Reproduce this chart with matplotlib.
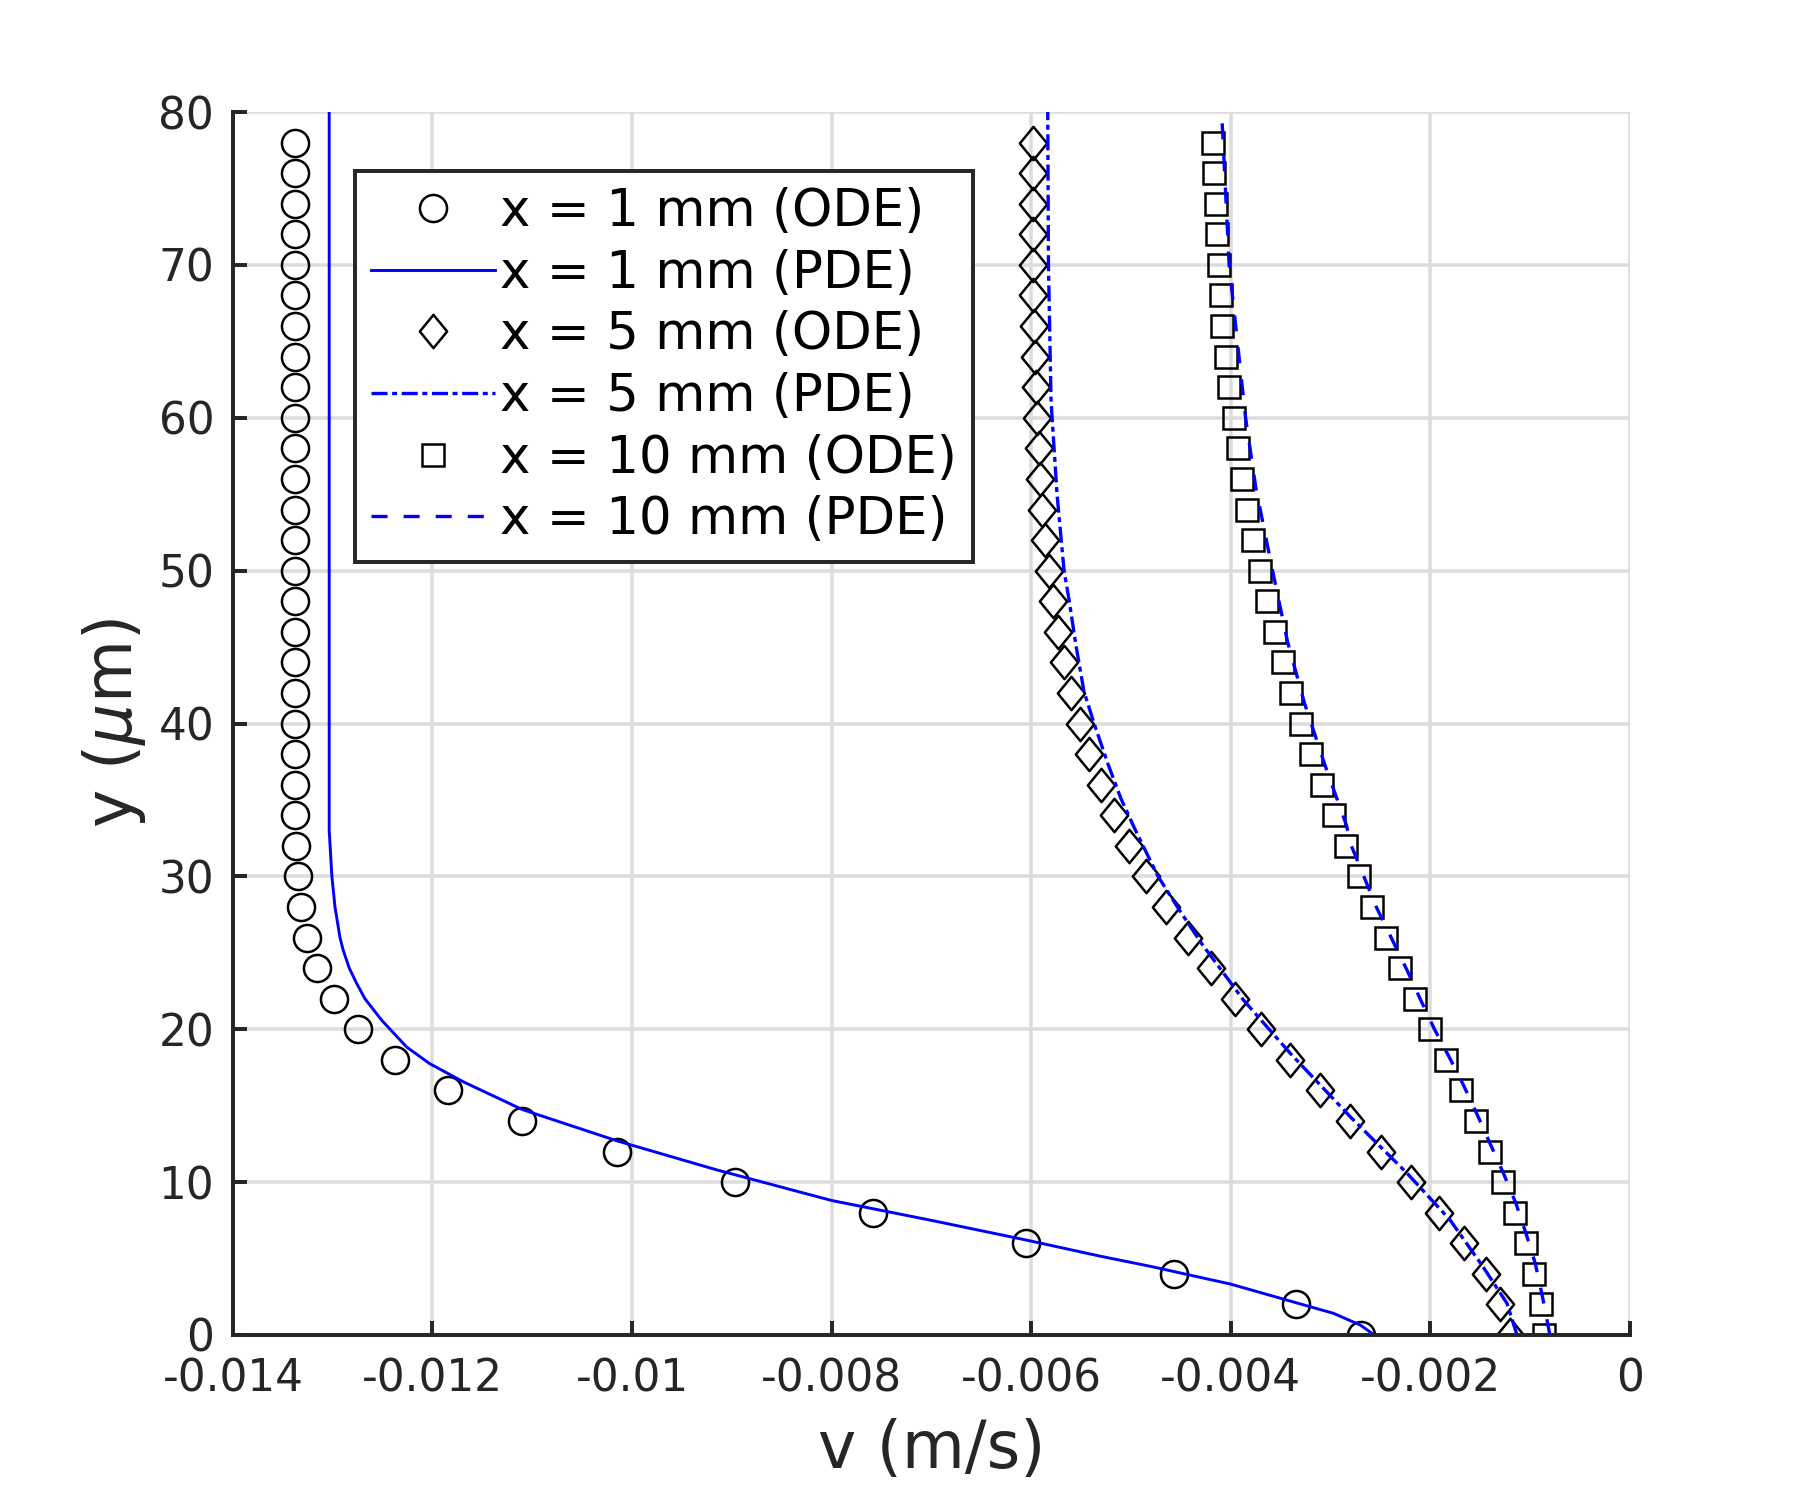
import numpy as np
import matplotlib
matplotlib.use("Agg")
import matplotlib.pyplot as plt
from matplotlib.path import Path

# ---------------- data ----------------
y_ode = list(range(0, 80, 2))  # y (um) for ODE markers

v_ode_1mm = [-0.00269, -0.00334, -0.00457, -0.00605, -0.00758, -0.00897, -0.01015, -0.01110,
             -0.01184, -0.01238, -0.01275, -0.01299, -0.01316, -0.01326, -0.01332, -0.01335,
             -0.01337, -0.01338, -0.01338, -0.01338, -0.01338, -0.01338, -0.01338, -0.01338,
             -0.01338, -0.01338, -0.01338, -0.01338, -0.01338, -0.01338, -0.01338, -0.01338,
             -0.01338, -0.01338, -0.01338, -0.01338, -0.01338, -0.01338, -0.01338, -0.01338]

v_ode_5mm = [-0.00120, -0.00130, -0.001445, -0.001656, -0.00191, -0.00219, -0.00249, -0.00280,
             -0.00310, -0.00340, -0.00370, -0.00396, -0.00420, -0.00443, -0.00465, -0.004845,
             -0.00502, -0.00517, -0.00530, -0.005415, -0.00551, -0.00560, -0.00567, -0.00573,
             -0.00578, -0.00582, -0.00586, -0.00589, -0.00591, -0.00592, -0.00594, -0.00595,
             -0.00596, -0.00597, -0.00598, -0.00598, -0.00598, -0.00598, -0.00598, -0.00598]

v_ode_10mm = [-0.000864, -0.000891, -0.00096, -0.001041, -0.001148, -0.001272, -0.00140, -0.00154,
              -0.00169, -0.00184, -0.00200, -0.00215, -0.00230, -0.00244, -0.00258, -0.00271,
              -0.00284, -0.00296, -0.00308, -0.00319, -0.00329, -0.00339, -0.00348, -0.00356,
              -0.00364, -0.00371, -0.003776, -0.003835, -0.003887, -0.003927, -0.00397, -0.004018,
              -0.004048, -0.004082, -0.00410, -0.00412, -0.00414, -0.00415, -0.00417, -0.00418]

y_pde_1mm = [0.0, 0.65, 1.42, 2.03, 3.33, 4.5, 5.16, 6.2, 7.5, 8.8, 10.8, 12.7, 14.75, 16.56,
             17.76, 18.84, 20.59, 22.0, 23.0, 24.0, 25.16, 26.0, 28.0, 30.0, 33.0, 80.0]
v_pde_1mm = [-0.00256, -0.00270, -0.00297, -0.00330, -0.00400, -0.00481, -0.00531, -0.00604,
             -0.00700, -0.00800, -0.00915, -0.01015, -0.01110, -0.01169, -0.01203, -0.012259,
             -0.012509, -0.012677, -0.01276, -0.012834, -0.012894, -0.012927, -0.012977,
             -0.013008, -0.013035, -0.013035]

y_pde_5mm = [0.0, 2.07, 4.46, 7.52, 10.57, 14.27, 18.41, 21.9, 25.6, 27.86, 30.03, 33.1,
             35.1, 37.36, 40.03, 42.1, 45.1, 48.11, 50.03, 55.0, 61.1, 70.0, 80.0]
v_pde_5mm = [-0.00113, -0.00123, -0.00147, -0.00180, -0.00223, -0.00280, -0.00340, -0.00387,
             -0.00429, -0.00452, -0.00473, -0.00496, -0.00510, -0.00523, -0.00537, -0.00547,
             -0.00555, -0.00562, -0.00567, -0.00574, -0.00580, -0.005826, -0.005833]

y_pde_10mm = [0.0, 2.68, 4.69, 6.65, 8.6, 10.57, 12.53, 14.38, 16.34, 18.19, 20.04, 21.9,
              23.81, 28.0, 32.0, 33.36, 37.36, 41.36, 45.36, 50.0, 55.48, 60.0, 70.0, 80.0]
v_pde_10mm = [-0.00080, -0.00088, -0.000947, -0.00104, -0.00114, -0.001265, -0.00140, -0.001526,
              -0.001666, -0.00181, -0.00196, -0.002094, -0.002228, -0.00254, -0.00279, -0.00284,
              -0.003059, -0.003261, -0.00343, -0.00358, -0.003749, -0.00385, -0.004015, -0.00409]

labels = ["x = 1 mm (ODE)", "x = 1 mm (PDE)", "x = 5 mm (ODE)",
          "x = 5 mm (PDE)", "x = 10 mm (ODE)", "x = 10 mm (PDE)"]
x_ticks = [-0.014, -0.012, -0.010, -0.008, -0.006, -0.004, -0.002, 0.0]
x_ticklabels = ["-0.014", "-0.012", "-0.01", "-0.008", "-0.006", "-0.004", "-0.002", "0"]
y_ticks = [0, 10, 20, 30, 40, 50, 60, 70, 80]

# ---------------- style ----------------
plt.rcParams['font.family'] = ['DejaVu Sans']
plt.rcParams['lines.scale_dashes'] = False
dark = '#262626'
blue = '#0000ff'

diamond = Path([(0, 0.5), (0.41, 0), (0, -0.5), (-0.41, 0), (0, 0.5)],
               [Path.MOVETO, Path.LINETO, Path.LINETO, Path.LINETO, Path.CLOSEPOLY])

fig = plt.figure(figsize=(12, 10), dpi=150)
ax = fig.add_axes([0.1294, 0.11, 0.776, 0.8153])

mkw = dict(linestyle='none', mfc='none', mec='black', mew=1.2)
ax.plot(v_ode_1mm, y_ode, marker='o', ms=13, label=labels[0], **mkw)
ax.plot(v_pde_1mm, y_pde_1mm, color=blue, lw=1.4, linestyle='-', label=labels[1])
ax.plot(v_ode_5mm, y_ode, marker=diamond, ms=16, label=labels[2], **mkw)
ax.plot(v_pde_5mm, y_pde_5mm, color=blue, lw=1.6, linestyle=(0, (7.7, 2.2, 2.4, 2.2)), label=labels[3])
ax.plot(v_ode_10mm, y_ode, marker='s', ms=10.5, label=labels[4], **mkw)
ax.plot(v_pde_10mm, y_pde_10mm, color=blue, lw=1.6, linestyle=(0, (7.7, 7.7)), label=labels[5])

ax.set_xlim(-0.014, 0.0)
ax.set_ylim(0, 80)
ax.set_xticks(x_ticks)
ax.set_xticklabels(x_ticklabels)
ax.set_yticks(y_ticks)

ax.grid(True, color='#dcdcdc', lw=1.7)
ax.set_axisbelow(True)
for s in ['top', 'right']:
    ax.spines[s].set_visible(False)
for s in ['left', 'bottom']:
    ax.spines[s].set_color(dark)
    ax.spines[s].set_linewidth(1.9)
    ax.spines[s].set_zorder(5)

ax.tick_params(axis='both', direction='in', length=6.5, width=1.9, color=dark,
               labelcolor=dark, labelsize=21)
ax.tick_params(axis='x', pad=11)
ax.tick_params(axis='y', pad=9)

ax.set_xlabel('v (m/s)', fontsize=31, color=dark)
ax.set_ylabel(r'y ($\mu$m)', fontsize=31, color=dark)
ax.xaxis.set_label_coords(0.5, -0.068)
ax.yaxis.set_label_coords(-0.061, 0.5)

leg = ax.legend(loc='upper left', bbox_to_anchor=(0.0873, 0.952), borderaxespad=0,
                fontsize=24.7, frameon=True, fancybox=False, framealpha=1,
                edgecolor=dark, handlelength=2.4, handletextpad=0.1,
                labelspacing=0.225, borderpad=0.32)
leg.get_frame().set_linewidth(1.9)

fig.savefig('out.png', dpi=150, facecolor='white')
